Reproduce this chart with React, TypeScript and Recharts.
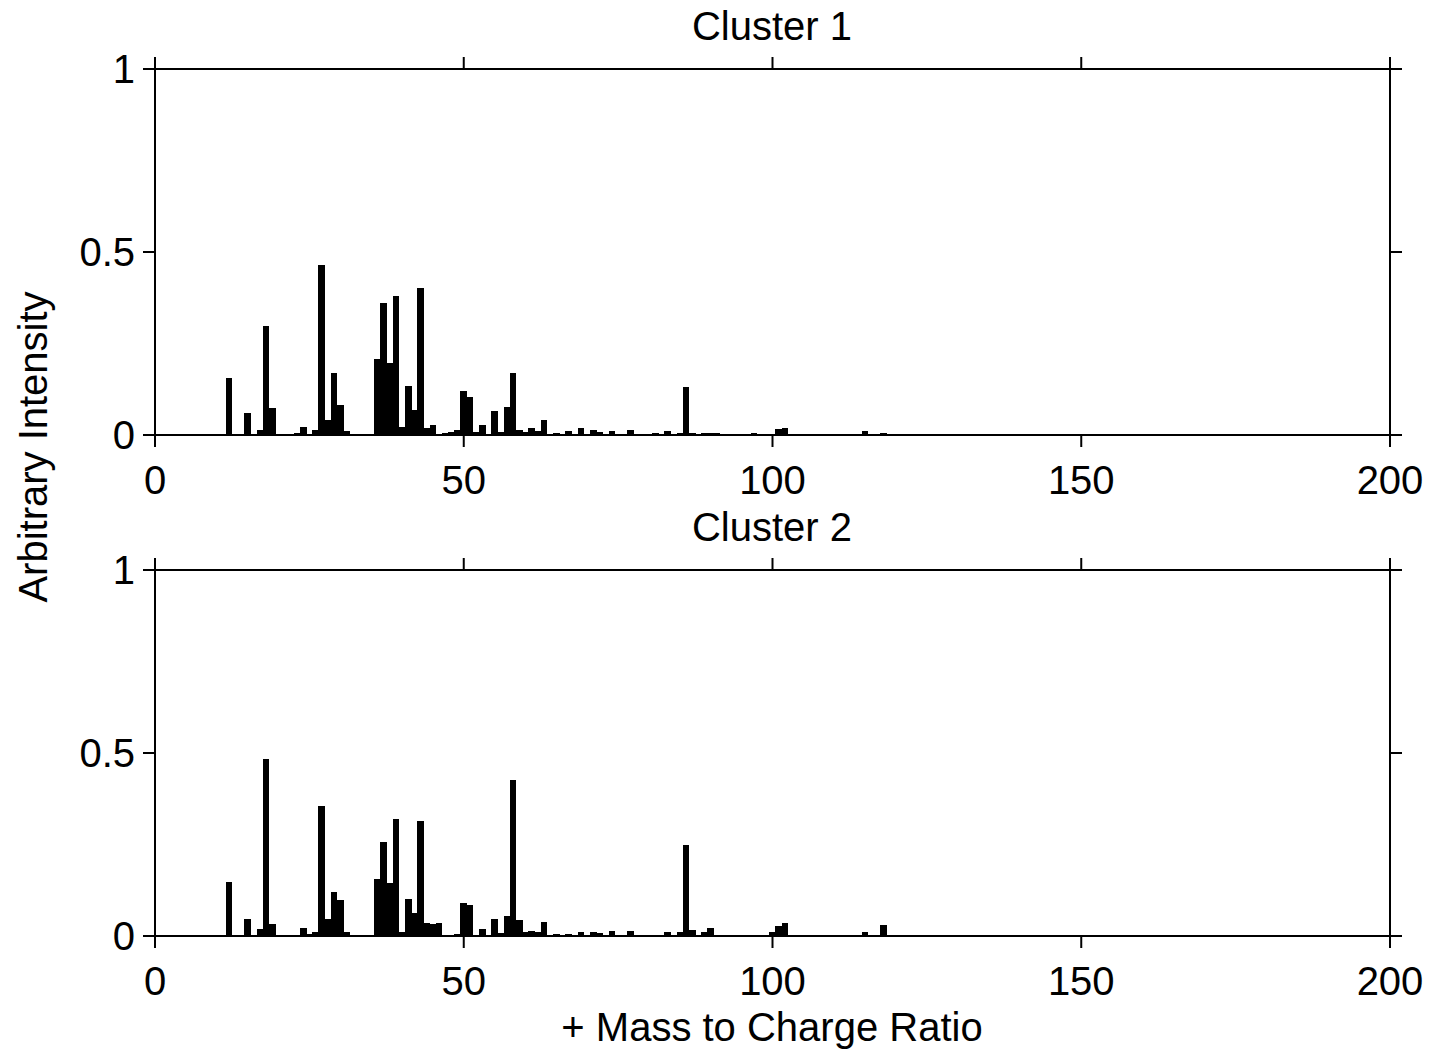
import React from 'react';
import { BarChart, Bar, XAxis, YAxis } from 'recharts';

// m/z values and intensities
const cluster1Mz = [12, 15, 17, 18, 19, 23, 24, 26, 27, 28, 29, 30, 31, 36, 37, 38, 39, 40, 41, 42, 43, 44, 45, 47, 48, 49, 50, 51, 52, 53, 54, 55, 56, 57, 58, 59, 60, 61, 62, 63, 65, 67, 69, 71, 72, 74, 77, 81, 83, 85, 86, 87, 89, 90, 91, 97, 100, 101, 102, 115, 118];
const cluster1Int = [0.157, 0.06, 0.014, 0.298, 0.073, 0.006, 0.022, 0.014, 0.465, 0.04, 0.169, 0.081, 0.01, 0.208, 0.361, 0.196, 0.38, 0.023, 0.135, 0.069, 0.403, 0.018, 0.027, 0.005, 0.009, 0.013, 0.119, 0.103, 0.008, 0.026, 0.004, 0.065, 0.007, 0.077, 0.169, 0.014, 0.008, 0.018, 0.011, 0.041, 0.006, 0.011, 0.018, 0.015, 0.008, 0.011, 0.015, 0.006, 0.01, 0.005, 0.13, 0.006, 0.005, 0.005, 0.005, 0.005, 0.003, 0.016, 0.02, 0.012, 0.006];

const cluster2Mz = [12, 15, 17, 18, 19, 24, 25, 26, 27, 28, 29, 30, 31, 36, 37, 38, 39, 40, 41, 42, 43, 44, 45, 46, 49, 50, 51, 53, 55, 56, 57, 58, 59, 60, 61, 62, 63, 65, 67, 69, 71, 72, 74, 77, 83, 85, 86, 87, 89, 90, 100, 101, 102, 115, 118];
const cluster2Int = [0.147, 0.046, 0.02, 0.484, 0.033, 0.023, 0.005, 0.01, 0.356, 0.046, 0.12, 0.097, 0.01, 0.156, 0.256, 0.144, 0.319, 0.01, 0.1, 0.063, 0.314, 0.035, 0.033, 0.035, 0.005, 0.089, 0.085, 0.019, 0.046, 0.007, 0.055, 0.425, 0.043, 0.011, 0.013, 0.011, 0.039, 0.006, 0.006, 0.01, 0.01, 0.007, 0.013, 0.013, 0.01, 0.012, 0.249, 0.016, 0.012, 0.023, 0.012, 0.027, 0.035, 0.012, 0.031];

const xTicks = [0, 50, 100, 150, 200];
const yTicks = [0, 0.5, 1];

const FONT = '"Liberation Sans", Arial, sans-serif';
const tickStyle = { fill: '#000', fontSize: 40, fontFamily: FONT };
const lineStyle = { stroke: '#000', strokeWidth: 2 };
const BAR_W = 6.6; // a bit over one m/z unit so neighbouring bars merge

const toRows = (mz: number[], vals: number[]) => mz.map((m, i) => ({ mz: m, v: vals[i] }));

// keep recharts' x/y/height, only widen the bar around its centre
const SpectrumBar = (p: any) => {
  if (!p.height || p.height <= 0) return null;
  return (
    <rect
      x={p.x + p.width / 2 - BAR_W / 2}
      y={p.y}
      width={BAR_W}
      height={p.height}
      fill="#000"
      shapeRendering="crispEdges"
    />
  );
};

const Spectrum = ({ data, top }: { data: { mz: number; v: number }[]; top: number }) => (
  <BarChart
    width={1436}
    height={top + 366 + 66}
    data={data}
    margin={{ top: top - 1, right: 45, bottom: 0, left: 0 }}
  >
    <XAxis
      dataKey="mz"
      type="number"
      domain={[0, 200]}
      ticks={xTicks}
      height={66}
      tickSize={12}
      tickMargin={19}
      tick={tickStyle}
      axisLine={lineStyle}
      tickLine={lineStyle}
      allowDataOverflow
    />
    <XAxis
      xAxisId="top"
      dataKey="mz"
      orientation="top"
      type="number"
      domain={[0, 200]}
      ticks={xTicks}
      height={1}
      tickSize={12}
      tickFormatter={() => ''}
      axisLine={lineStyle}
      tickLine={lineStyle}
      allowDataOverflow
    />
    <YAxis
      type="number"
      domain={[0, 1]}
      ticks={yTicks}
      width={155}
      tickSize={12}
      tickMargin={8}
      tick={tickStyle}
      axisLine={lineStyle}
      tickLine={lineStyle}
    />
    <YAxis
      yAxisId="right"
      orientation="right"
      type="number"
      domain={[0, 1]}
      ticks={yTicks}
      width={1}
      tickSize={12}
      tickFormatter={() => ''}
      axisLine={lineStyle}
      tickLine={lineStyle}
    />
    <Bar dataKey="v" fill="#000" shape={SpectrumBar} isAnimationActive={false} />
    {/* invisible series so the framing axes get drawn */}
    <Bar dataKey="v" xAxisId="top" yAxisId="right" fill="none" isAnimationActive={false} />
  </BarChart>
);

const textBase: React.CSSProperties = {
  position: 'absolute',
  fontFamily: FONT,
  fontSize: 40,
  lineHeight: '40px',
  color: '#000',
  textAlign: 'center',
  whiteSpace: 'nowrap',
};

export default function App() {
  return (
    <div style={{ position: 'absolute', left: 0, top: 0, width: 1436, height: 1055, background: '#fff' }}>
      <div style={{ position: 'absolute', left: 0, top: 0 }}>
        <Spectrum data={toRows(cluster1Mz, cluster1Int)} top={69} />
      </div>
      <div style={{ position: 'absolute', left: 0, top: 500 }}>
        <Spectrum data={toRows(cluster2Mz, cluster2Int)} top={70} />
      </div>
      <div style={{ ...textBase, left: 572, top: 6, width: 400 }}>Cluster 1</div>
      <div style={{ ...textBase, left: 572, top: 507, width: 400 }}>Cluster 2</div>
      <div style={{ ...textBase, left: 472, top: 1007, width: 600 }}>+ Mass to Charge Ratio</div>
      <div style={{ ...textBase, left: 33 - 250, top: 447 - 20, width: 500, transform: 'rotate(-90deg)' }}>
        Arbitrary Intensity
      </div>
    </div>
  );
}
